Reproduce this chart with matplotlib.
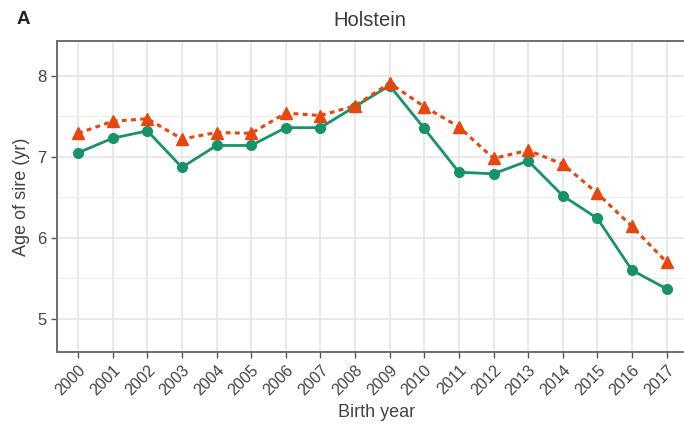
import matplotlib
matplotlib.use("Agg")
import matplotlib.pyplot as plt
from matplotlib.ticker import MultipleLocator

plt.rcParams['font.family'] = ['Liberation Sans', 'DejaVu Sans']

# Holstein: age of sire by birth year
years = list(range(2000, 2018))
sire_green = [7.05, 7.23, 7.32, 6.87, 7.14, 7.14, 7.36, 7.36, 7.62, 7.88,
              7.35, 6.81, 6.79, 6.95, 6.52, 6.24, 5.60, 5.37]
sire_red = [7.29, 7.44, 7.47, 7.22, 7.30, 7.29, 7.54, 7.51, 7.63, 7.91,
            7.62, 7.37, 6.98, 7.08, 6.91, 6.55, 6.14, 5.70]

GREEN = '#17936A'
RED = '#E8460C'
TXT = '#444444'

fig = plt.figure(figsize=(6.84, 4.28), dpi=100)
ax = fig.add_axes([57 / 684, 1 - 352 / 428, 639 / 684, 311 / 428])

ax.plot(years, sire_green, color=GREEN, lw=2, marker='o', ms=7, zorder=3)
ax.plot(years, sire_red, color=RED, lw=2.2, ls=(0, (1.6, 1.4)), marker='^', ms=9, zorder=4)

ax.set_xlim(1999.39, 2017.85)
ax.set_ylim(4.59, 8.43)
ax.set_xticks(years)
ax.set_xticklabels([str(y) for y in years], rotation=45, ha='right', va='top',
                   rotation_mode='anchor', color=TXT, fontsize=11.5)
ax.set_yticks([5, 6, 7, 8])
ax.yaxis.set_minor_locator(MultipleLocator(0.5))
ax.tick_params(axis='y', which='major', labelcolor=TXT, labelsize=12)
ax.tick_params(which='major', color='#555555', length=4, width=1)
ax.tick_params(which='minor', length=0)

ax.grid(which='major', color='#E3E3E3', lw=1.1)
ax.grid(which='minor', axis='y', color='#EDEDED', lw=0.8)
ax.set_axisbelow(True)
for s in ax.spines.values():
    s.set_color('#6E6E6E')
    s.set_linewidth(1.4)

ax.set_xlabel('Birth year', color=TXT, fontsize=13, labelpad=4)
ax.set_ylabel('Age of sire (yr)', color=TXT, fontsize=13, labelpad=5)

fig.text(370 / 684, 1 - 20 / 428, 'Holstein', ha='center', va='center',
         fontsize=14.5, color='#3A3A3A')
fig.text(17 / 684, 1 - 20 / 428, 'A', ha='left', va='center',
         fontsize=13.5, fontweight='bold', color='#222222')

fig.savefig('out.png', dpi=100)
